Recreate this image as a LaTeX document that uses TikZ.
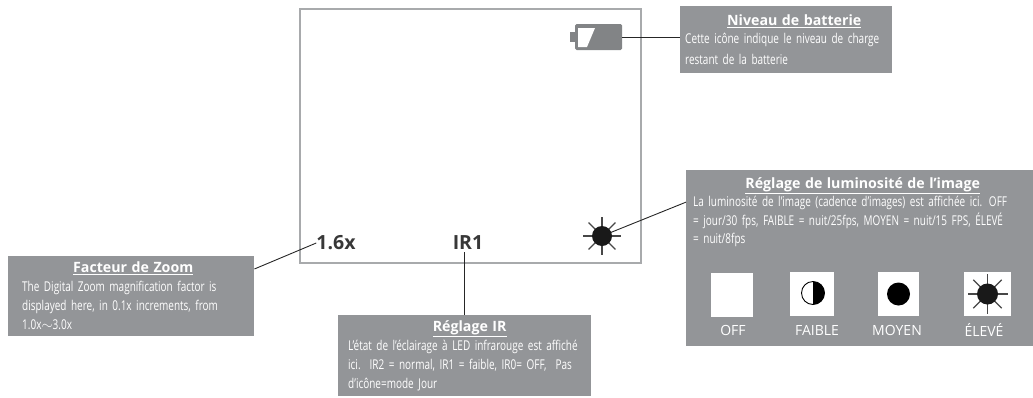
\documentclass[tikz,border=0pt]{standalone}
\usepackage{fontspec}
\setmainfont[FakeStretch=0.74]{Open Sans}
\newfontfamily\titlefont{Open Sans}
\definecolor{boxgray}{RGB}{147,149,152}
\definecolor{lcdgray}{RGB}{168,170,172}
\definecolor{batgray}{RGB}{130,132,134}
\tikzset{
  infobox/.style={fill=boxgray, text=white, anchor=north west, inner ysep=4pt,
    align=left, font=\fontsize{13.5}{19}\selectfont},
  lcdtext/.style={font=\titlefont\bfseries\fontsize{19.5}{20}\selectfont, text=black!78, inner sep=0pt},
  leader/.style={black!85, line width=0.9pt},
  iconbox/.style={fill=white, minimum width=#1, minimum height=44pt, inner sep=0pt},
  iconlabel/.style={text=white, inner sep=0pt, font=\titlefont\fontsize{14}{14}\selectfont}
}
\newcommand{\boxtitle}[2]{\hbox to \hsize{\hskip#1\hss\titlefont\bfseries\fontsize{14.2}{16}\selectfont\underline{#2}\hss}}
\newcommand{\sunrays}[3]{%
  \foreach \a in {0,45,...,315}
    \draw[black!72, line width=1.3pt] (#1) -- ++(\a:#2);
  \fill[black!90] (#1) circle (#3);}
\begin{document}
\begin{tikzpicture}[x=1pt,y=-1pt]
  \useasboundingbox (0,0) rectangle (1033,397);
  % lcd frame
  \node[draw=lcdgray, line width=1.3pt, minimum width=341pt, minimum height=254pt, inner sep=0pt] (lcd) at (470.5,136) {};
  \node[lcdtext] (zoomval) at (336,243) {1.6x};
  \node[lcdtext] (irval) at (468,243) {IR1};
  % battery
  \node[fill=batgray, rounded corners=1.5pt, minimum width=47pt, minimum height=26pt, inner sep=0pt] (battery) at (598.5,37) {};
  \fill[batgray] (570,32) rectangle (575,42);
  \fill[white] (578,28) -- (595,28) -- (587,47) -- (578,47) -- cycle;
  \coordinate (sun) at (602,236);
  % boxes
  \node[infobox, inner xsep=5pt, inner ysep=9pt, text width=202pt, text depth=38pt, font=\fontsize{13.5}{21}\selectfont] (battbox) at (680,6) {%
    \boxtitle{16pt}{Niveau de batterie}\\[-3pt]Cette icône indique le niveau de charge\\restant de la batterie};
  \node[infobox, inner xsep=7pt, inner ysep=7pt, text width=333pt, text depth=151pt, font=\fontsize{13.5}{18.6}\selectfont] (lumbox) at (686,170) {%
    \boxtitle{6pt}{Réglage de luminosité de l’image}\\La luminosité de l’image (cadence d’images) est affichée ici. OFF\\= jour/30 fps, FAIBLE = nuit/25fps, MOYEN = nuit/15 FPS, ÉLEVÉ\\= nuit/8fps};
  \node[infobox, inner xsep=14pt, inner ysep=6pt, text width=218pt, text depth=57pt] (zoombox) at (8,256) {%
    \boxtitle{4pt}{Facteur de Zoom}\\The Digital Zoom magnification factor is\\displayed here, in 0.1x increments, from\\1.0x$\sim$3.0x};
  \node[infobox, inner xsep=10pt, inner ysep=5pt, text width=233pt, text depth=60pt] (irbox) at (338,315) {%
    \boxtitle{10pt}{Réglage IR}\\L’état de l’éclairage à LED infrarouge est affiché\\ici.\ \ IR2 = normal, IR1 = faible, IR0= OFF,\ \ Pas\\d’icône=mode Jour};
  % icons
  \node[iconbox=42pt] (off) at (732,294.5) {};
  \node[iconbox=44pt] (low) at (812,294) {};
  \node[iconbox=41pt] (mid) at (898.5,294) {};
  \node[iconbox=47pt] (high) at (987.5,294) {};
  \draw[black, line width=0.9pt] (813,293) circle (11.5pt);
  \fill[black] (813,281.5) arc (90:-90:11.5pt) -- cycle;
  \fill[black] (mid) circle (11.5pt);
  \sunrays{high.center}{20}{10.5pt}
  \node[iconlabel] (offtxt) at (733,330) {OFF};
  \node[iconlabel] (lowtxt) at (817,330) {FAIBLE};
  \node[iconlabel] (midtxt) at (897,330) {MOYEN};
  \node[iconlabel] (hightxt) at (984,330) {ÉLEVÉ};
  % leaders
  \draw[leader] (battery.east) -- (battbox.west |- battery.east);
  \draw[leader] (sun) -- ([yshift=56pt]lumbox.west);
  \draw[leader] ([yshift=-13pt]zoombox.north east) -- (zoomval.west);
  \draw[leader] ([xshift=-4pt,yshift=-2pt]irval.south) -- ([xshift=-4pt]irbox.north -| irval.south);
  \sunrays{sun}{19}{10pt}
\end{tikzpicture}
\end{document}
